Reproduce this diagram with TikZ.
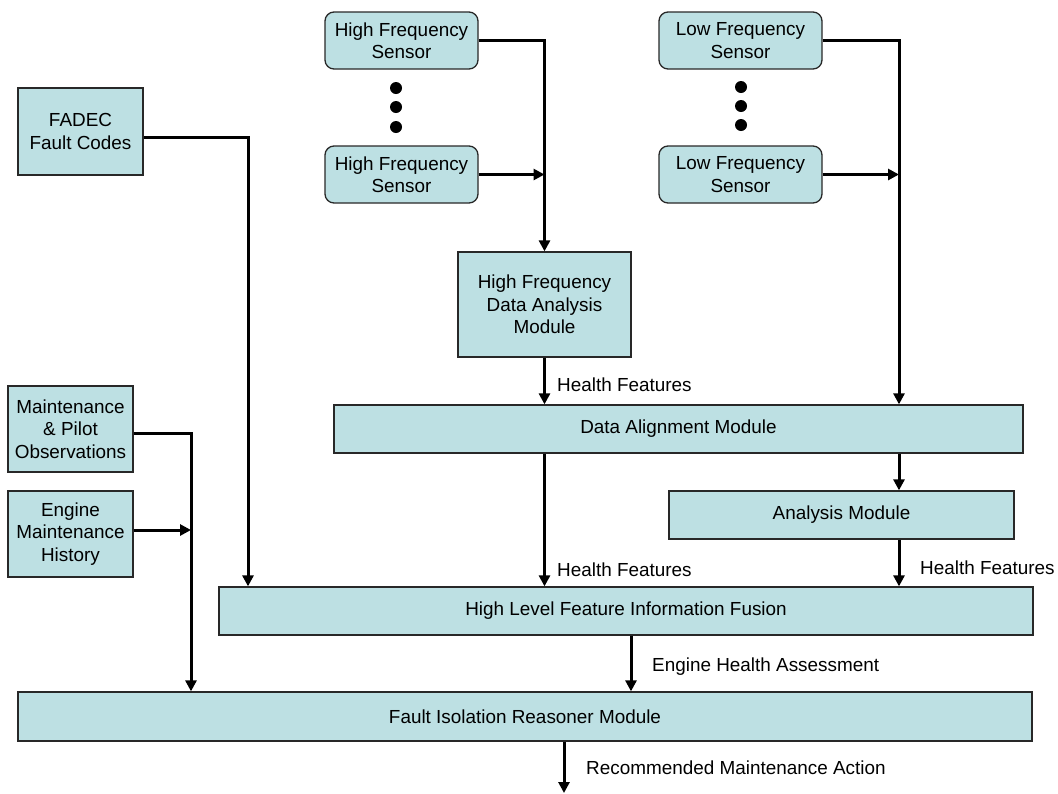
\documentclass[tikz,border=0pt]{standalone}
\usepackage{fontspec}
\setmainfont{Liberation Sans}
\usetikzlibrary{arrows.meta}
\definecolor{boxfill}{RGB}{189,224,227}
\definecolor{boxline}{RGB}{40,40,40}
\tikzset{
  box/.style={draw=boxline, line width=1.3pt, fill=boxfill, align=center, inner sep=0pt,
    font=\fontsize{18.9}{22.5}\selectfont},
  rbox/.style={box, rounded corners=9pt},
  conn/.style={line width=3pt, draw=black},
  arr/.style={conn, -{Triangle[length=11pt,width=11pt]}},
  lbl/.style={anchor=west, inner sep=0pt, font=\fontsize{18.9}{22.5}\selectfont},
  dot/.style={circle, fill=black, inner sep=0pt, minimum size=12pt}
}
\begin{document}
\begin{tikzpicture}[x=1pt,y=-1pt]
\useasboundingbox (0,0) rectangle (1058,793);
% nodes
\node[rbox, minimum width=153pt, minimum height=57pt] (hf1) at (401.5,40.5) {High Frequency\\Sensor};
\node[rbox, minimum width=153pt, minimum height=57pt] (hf2) at (401.5,174.5) {High Frequency\\Sensor};
\node[rbox, minimum width=163pt, minimum height=57pt] (lf1) at (740.5,40.5) {Low Frequency\\Sensor};
\node[rbox, minimum width=163pt, minimum height=57pt] (lf2) at (740.5,174.5) {Low Frequency\\Sensor};
\node[dot] (hd1) at (396,88) {};
\node[dot] (hd2) at (396,107) {};
\node[dot] (hd3) at (396,127) {};
\node[dot] (ld1) at (741,87) {};
\node[dot] (ld2) at (741,106) {};
\node[dot] (ld3) at (741,125) {};
\node[box, minimum width=125pt, minimum height=87pt] (fadec) at (80.5,131.5) {FADEC\\Fault Codes};
\node[box, minimum width=173pt, minimum height=105pt] (hfda) at (544.5,304.5) {High Frequency\\Data Analysis\\Module};
\node[box, minimum width=689pt, minimum height=48pt] (dam) at (678.5,429) {Data Alignment Module};
\node[box, minimum width=345pt, minimum height=48pt] (am) at (841.5,515) {Analysis Module};
\node[box, minimum width=814pt, minimum height=48pt] (hlfif) at (626,611) {High Level Feature Information Fusion};
\node[box, minimum width=125pt, minimum height=86pt] (mpo) at (70.5,429) {Maintenance\\\& Pilot\\Observations};
\node[box, minimum width=125pt, minimum height=86pt] (emh) at (70.5,534) {Engine\\Maintenance\\History};
\node[box, minimum width=1014pt, minimum height=49pt] (firm) at (525,716.5) {Fault Isolation Reasoner Module};
% coordinates
\coordinate (lfx) at (899,0);
\coordinate (fx) at (248,0);
\coordinate (mx) at (191,0);
\coordinate (hx) at (631,0);
\coordinate (rx) at (564,0);
\coordinate (out) at (564,793);
% connectors
\draw[arr] (hf1.east) -| (hfda.north);
\draw[arr] (hf2.east) -- (hf2.east -| hfda.north);
\draw[arr] (lf1.east) -| (dam.north -| lfx);
\draw[arr] (lf2.east) -- (lf2.east -| lfx);
\draw[arr] (hfda.south) -- (dam.north -| hfda.south);
\draw[arr] (dam.south -| hfda.south) -- (hlfif.north -| hfda.south);
\draw[arr] (dam.south -| lfx) -- (am.north -| lfx);
\draw[arr] (am.south -| lfx) -- (hlfif.north -| lfx);
\draw[arr] ([yshift=-5.5pt]fadec.east) -| (hlfif.north -| fx);
\draw[arr] ([yshift=-4pt]mpo.east) -| (firm.north -| mx);
\draw[arr] ([yshift=4pt]emh.east) -- ([yshift=4pt]emh.east -| mx);
\draw[arr] (hlfif.south -| hx) -- (firm.north -| hx);
\draw[arr] (firm.south -| rx) -- (out);
% labels
\node[lbl] (l1) at (557,385) {Health Features};
\node[lbl] (l2) at (557,570) {Health Features};
\node[lbl] (l3) at (920,568) {Health Features};
\node[lbl] (l4) at (652,667) {Engine Health Assessment};
\node[lbl] (l5) at (586,768) {Recommended Maintenance Action};
\end{tikzpicture}
\end{document}
